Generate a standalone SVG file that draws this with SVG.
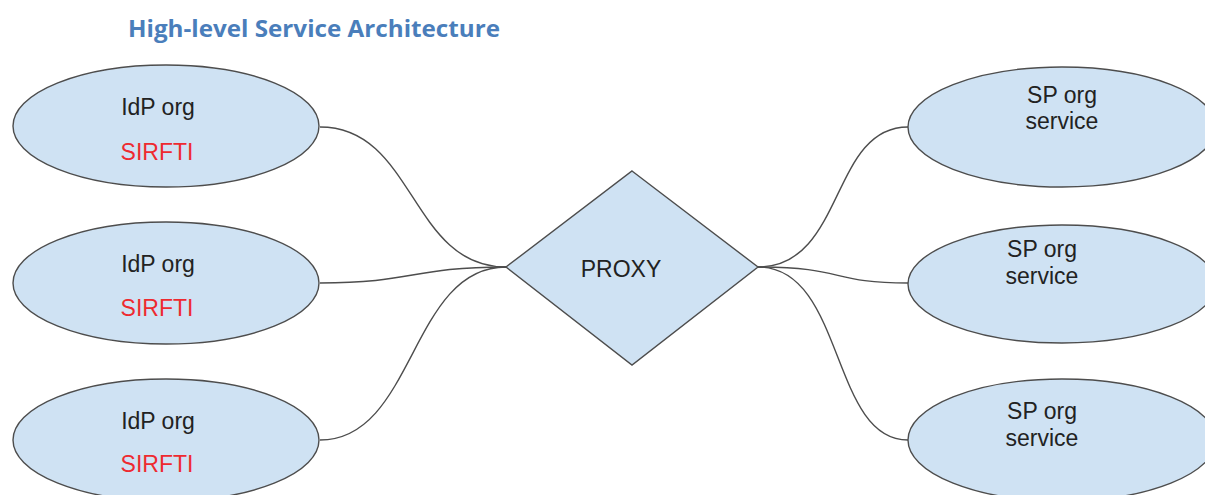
<svg xmlns="http://www.w3.org/2000/svg" width="1205" height="495" viewBox="0 0 1205 495">
<style>
.node{fill:#cfe2f3;stroke:#4d4d4d;stroke-width:1.4}
.lbl{font-family:"Liberation Sans",Arial,sans-serif;font-size:23px;fill:#222;text-anchor:middle}
.red{fill:#ee2a30}
.conn{fill:none;stroke:#4d4d4d;stroke-width:1.4}
.title{font-family:"Open Sans","Liberation Sans",sans-serif;font-weight:bold;font-size:23px;fill:#4a7ebb}
</style>
<rect width="1205" height="495" fill="#fff"/>
<text class="title" x="128" y="37" textLength="372" lengthAdjust="spacingAndGlyphs">High-level Service Architecture</text>
<g id="connectors">
<path class="conn" d="M320,127 C415,127 410,267 506,267"/>
<path class="conn" d="M320,283 C415,283 410,267 506,267"/>
<path class="conn" d="M320,440 C415,440 410,267 506,267"/>
<path class="conn" d="M758,267 C845,267 830,127 908,127"/>
<path class="conn" d="M758,267 C845,267 830,283 908,283"/>
<path class="conn" d="M758,267 C845,267 830,440 908,440"/>
</g>
<g id="idp1">
<ellipse class="node" cx="166" cy="126" rx="153" ry="61"/>
<text class="lbl" x="158" y="115">IdP org</text>
<text class="lbl red" x="157" y="160">SIRFTI</text>
</g>
<g id="idp2">
<ellipse class="node" cx="166" cy="283" rx="153" ry="61"/>
<text class="lbl" x="158" y="272">IdP org</text>
<text class="lbl red" x="157" y="316">SIRFTI</text>
</g>
<g id="idp3">
<ellipse class="node" cx="166" cy="440" rx="153" ry="61"/>
<text class="lbl" x="158" y="429">IdP org</text>
<text class="lbl red" x="157" y="472">SIRFTI</text>
</g>
<g id="proxy">
<polygon class="node" points="632,171 758,267 632,365 506,267"/>
<text class="lbl" x="621" y="277">PROXY</text>
</g>
<g id="sp1">
<ellipse class="node" cx="1062" cy="127" rx="154" ry="60"/>
<text class="lbl" x="1062" y="103">SP org</text>
<text class="lbl" x="1062" y="129">service</text>
</g>
<g id="sp2">
<ellipse class="node" cx="1062" cy="284" rx="154" ry="59"/>
<text class="lbl" x="1042" y="257">SP org</text>
<text class="lbl" x="1042" y="284">service</text>
</g>
<g id="sp3">
<ellipse class="node" cx="1062" cy="440" rx="154" ry="61"/>
<text class="lbl" x="1042" y="419">SP org</text>
<text class="lbl" x="1042" y="446">service</text>
</g>
</svg>
